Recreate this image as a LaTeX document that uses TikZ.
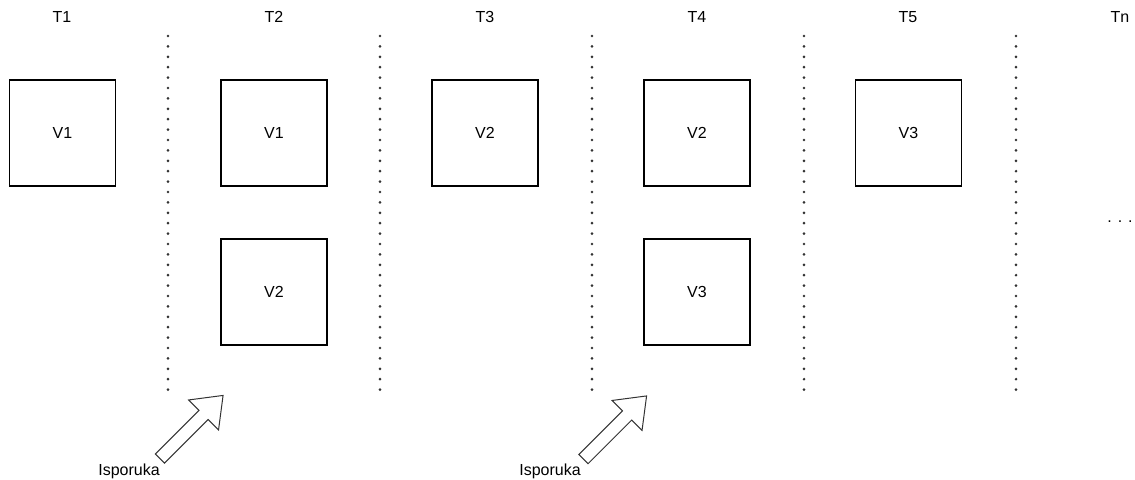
\documentclass[tikz,border=0pt]{standalone}
\usepackage{fontspec}
\setmainfont{Liberation Sans}
\usetikzlibrary{shapes,arrows}
\tikzset{%
	block/.style    = {draw, line width=0.85pt, rectangle, minimum height = 79.5pt,
		minimum width = 79.5pt, font=\fontsize{12}{14}\selectfont},
	slot/.style     = {font=\fontsize{12}{14}\selectfont}, % Time slot
	divider/.style  = {draw=black!80, line width=2.2pt, line cap=round,
		dash pattern=on 0pt off 7.8pt}, % Separator
	delivery/.style = {draw=black!80, line width=0.75pt, shape=single arrow,
		minimum height=67pt, inner xsep=0pt, inner ysep=4.5pt,
		single arrow head extend=11pt, single arrow tip angle=75, rotate=45},
	label/.style    = {font=\fontsize{12}{14}\selectfont}
}
\begin{document}
\begin{tikzpicture}[x=0.75pt,y=-0.75pt]
			\useasboundingbox (0,0) rectangle (1135,479);
			\node[slot] (t1) at (62,17) {T1} ;
			\node[slot] (t2) at (274,17) {T2} ;
			\node[slot] (t3) at (485,17) {T3} ;
			\node[slot] (t4) at (697,17) {T4} ;
			\node[slot] (t5) at (908,17) {T5} ;
			\node[slot] (tn) at (1120,17) {Tn} ;
			
			\node[block] (v1a) at (62.5,133) {V1} ;
			\node[block] (v1b) at (274,133) {V1} ;
			\node[block] (v2b) at (274,292) {V2} ;
			\node[block] (v2c) at (485,133) {V2} ;
			\node[block] (v2d) at (697,133) {V2} ;
			\node[block] (v3d) at (697,292) {V3} ;
			\node[block] (v3e) at (908.5,133) {V3} ;
			\node[slot] (more) at (1120,222) {. . .} ;
			
			\coordinate (d1top) at (168,36);  \coordinate (d1bot) at (168,397);
			\coordinate (d2top) at (380,36);  \coordinate (d2bot) at (380,397);
			\coordinate (d3top) at (592,36);  \coordinate (d3bot) at (592,397);
			\coordinate (d4top) at (804,36);  \coordinate (d4bot) at (804,397);
			\coordinate (d5top) at (1016,36); \coordinate (d5bot) at (1016,397);
			\draw[divider] (d1top) -- (d1bot);
			\draw[divider] (d2top) -- (d2bot);
			\draw[divider] (d3top) -- (d3bot);
			\draw[divider] (d4top) -- (d4bot);
			\draw[divider] (d5top) -- (d5bot);
			
			\node[delivery] (in1) at (188.5,430) {} ;
			\node[delivery] (in2) at (612,430.5) {} ;
			\node[label] (lab1) at (129,471) {Isporuka} ;
			\node[label] (lab2) at (550,471) {Isporuka} ;
		\end{tikzpicture}
\end{document}
